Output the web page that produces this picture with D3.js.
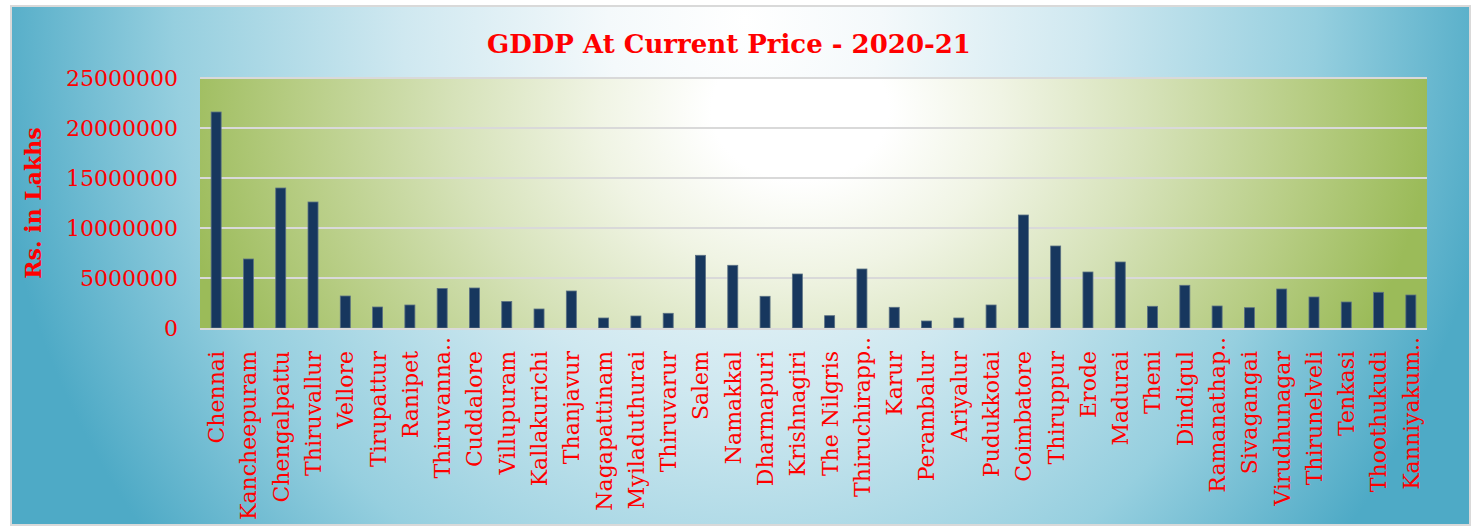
<!DOCTYPE html>
<html>
<head>
<meta charset="utf-8">
<script src="https://cdn.jsdelivr.net/npm/d3@7"></script>
<style>
  html, body { margin: 0; padding: 0; background: #fff; }
  svg { display: block; }
</style>
</head>
<body>
<svg id="canvas" width="1474" height="529"></svg>
<script>
// districts as labelled on the chart (truncated ones keep their "..")
const districts = [
  "Chennai", "Kancheepuram", "Chengalpattu", "Thiruvallur", "Vellore", "Tirupattur",
  "Ranipet", "Thiruvanna..", "Cuddalore", "Villupuram", "Kallakurichi", "Thanjavur",
  "Nagapattinam", "Myiladuthurai", "Thiruvarur", "Salem", "Namakkal", "Dharmapuri",
  "Krishnagiri", "The Nilgris", "Thiruchirapp..", "Karur", "Perambalur", "Ariyalur",
  "Pudukkotai", "Coimbatore", "Thiruppur", "Erode", "Madurai", "Theni", "Dindigul",
  "Ramanathap..", "Sivagangai", "Virudhunagar", "Thirunelveli", "Tenkasi",
  "Thoothukudi", "Kanniyakum.."
];

// GDDP 2020-21, Rs. in lakhs
const gddp = [
  21600000, 6900000, 14000000, 12600000, 3200000, 2100000,
  2300000, 3950000, 4000000, 2650000, 1900000, 3700000,
  1000000, 1200000, 1470000, 7270000, 6270000, 3170000,
  5400000, 1230000, 5900000, 2070000, 700000, 1000000,
  2300000, 11300000, 8200000, 5600000, 6600000, 2170000, 4270000,
  2200000, 2030000, 3900000, 3100000, 2600000,
  3570000, 3300000
];

const yTicks = [0, 5000000, 10000000, 15000000, 20000000, 25000000];

const title = "GDDP At Current Price - 2020-21";
const yTitle = "Rs. in Lakhs";

const W = 1474, H = 529;
const plot = { left: 200, right: 1427, top: 78, bottom: 328 };
const red = "#ff0000";
const serif = "'DejaVu Serif', serif";

const svg = d3.select("#canvas");
const defs = svg.append("defs");

// outer blue-white background
const bg = defs.append("radialGradient")
  .attr("id", "bgGrad")
  .attr("gradientUnits", "userSpaceOnUse")
  .attr("cx", 745).attr("cy", 20).attr("r", 760)
  .attr("gradientTransform", "translate(745,20) scale(1,1.1) translate(-745,-20)");
[[0, "#ffffff"], [0.18, "#f4f9fb"], [0.45, "#cfe8f0"], [0.75, "#96cfdf"], [1, "#4eaac6"]]
  .forEach(([o, c]) => bg.append("stop").attr("offset", o).attr("stop-color", c));

// plot area green-white
const pg = defs.append("radialGradient")
  .attr("id", "plotGrad")
  .attr("gradientUnits", "userSpaceOnUse")
  .attr("cx", 800).attr("cy", 110).attr("r", 630)
  .attr("gradientTransform", "translate(800,110) scale(1,0.8) translate(-800,-110)");
[[0, "#ffffff"], [0.14, "#ffffff"], [0.32, "#f0f4e4"], [0.55, "#d6e2b9"], [0.8, "#b7cd84"], [1, "#9bbb59"]]
  .forEach(([o, c]) => pg.append("stop").attr("offset", o).attr("stop-color", c));

svg.append("rect")
  .attr("x", 11).attr("y", 6)
  .attr("width", 1459).attr("height", 519)
  .attr("fill", "url(#bgGrad)")
  .attr("stroke", "#d9d9d9")
  .attr("stroke-width", 2);

svg.append("rect")
  .attr("x", plot.left).attr("y", plot.top)
  .attr("width", plot.right - plot.left).attr("height", plot.bottom - plot.top)
  .attr("fill", "url(#plotGrad)");

const x = d3.scaleBand()
  .domain(districts)
  .range([plot.left, plot.right])
  .paddingInner(0.69)
  .paddingOuter(0.345);

const y = d3.scaleLinear()
  .domain([0, 25000000])
  .range([plot.bottom, plot.top]);

// gridlines
svg.append("g")
  .selectAll("line")
  .data(yTicks.filter(d => d > 0))
  .join("line")
  .attr("x1", plot.left).attr("x2", plot.right)
  .attr("y1", d => y(d)).attr("y2", d => y(d))
  .attr("stroke", "#d9d9d9")
  .attr("stroke-width", 2);

// bars
svg.append("g")
  .selectAll("rect")
  .data(gddp)
  .join("rect")
  .attr("x", (d, i) => x(districts[i]))
  .attr("y", d => y(d))
  .attr("width", x.bandwidth())
  .attr("height", d => y(0) - y(d))
  .attr("fill", "#17375e")
  .attr("stroke", "#5b7183")
  .attr("stroke-width", 0.8);

// x axis line
svg.append("line")
  .attr("x1", plot.left).attr("x2", plot.right)
  .attr("y1", plot.bottom + 1).attr("y2", plot.bottom + 1)
  .attr("stroke", "#d9d9d9")
  .attr("stroke-width", 2);

// y axis
const yAxis = svg.append("g")
  .attr("transform", `translate(${plot.left - 22},0)`)
  .call(d3.axisLeft(y).tickValues(yTicks).tickSize(0).tickPadding(0).tickFormat(d3.format("d")));
yAxis.select(".domain").remove();
yAxis.selectAll("text")
  .attr("fill", red)
  .style("font-family", serif)
  .style("font-size", "22px");

// x labels (rotated)
const labelTop = 351;
const xl = svg.append("g");
districts.forEach(name => {
  const cut = name.endsWith("..");
  const main = cut ? name.slice(0, -2) : name;
  const cx = x(name) + x.bandwidth() / 2;
  const g = xl.append("g").attr("transform", `translate(${cx},${labelTop}) rotate(-90)`);
  g.append("text")
    .attr("text-anchor", "end")
    .attr("dy", "0.36em")
    .attr("fill", red)
    .style("font-family", serif)
    .style("font-size", "22px")
    .text(main);
  if (cut) {
    g.append("text")
      .attr("text-anchor", "start")
      .attr("dy", "0.36em")
      .attr("fill", red)
      .style("font-family", serif)
      .style("font-size", "22px")
      .text("..");
  }
});

// titles
svg.append("text")
  .attr("x", 729).attr("y", 53)
  .attr("text-anchor", "middle")
  .attr("fill", red)
  .style("font-family", serif)
  .style("font-weight", "bold")
  .style("font-size", "26px")
  .text(title);

svg.append("text")
  .attr("transform", "translate(41,203) rotate(-90)")
  .attr("text-anchor", "middle")
  .attr("fill", red)
  .style("font-family", serif)
  .style("font-weight", "bold")
  .style("font-size", "22px")
  .text(yTitle);
</script>
</body>
</html>
